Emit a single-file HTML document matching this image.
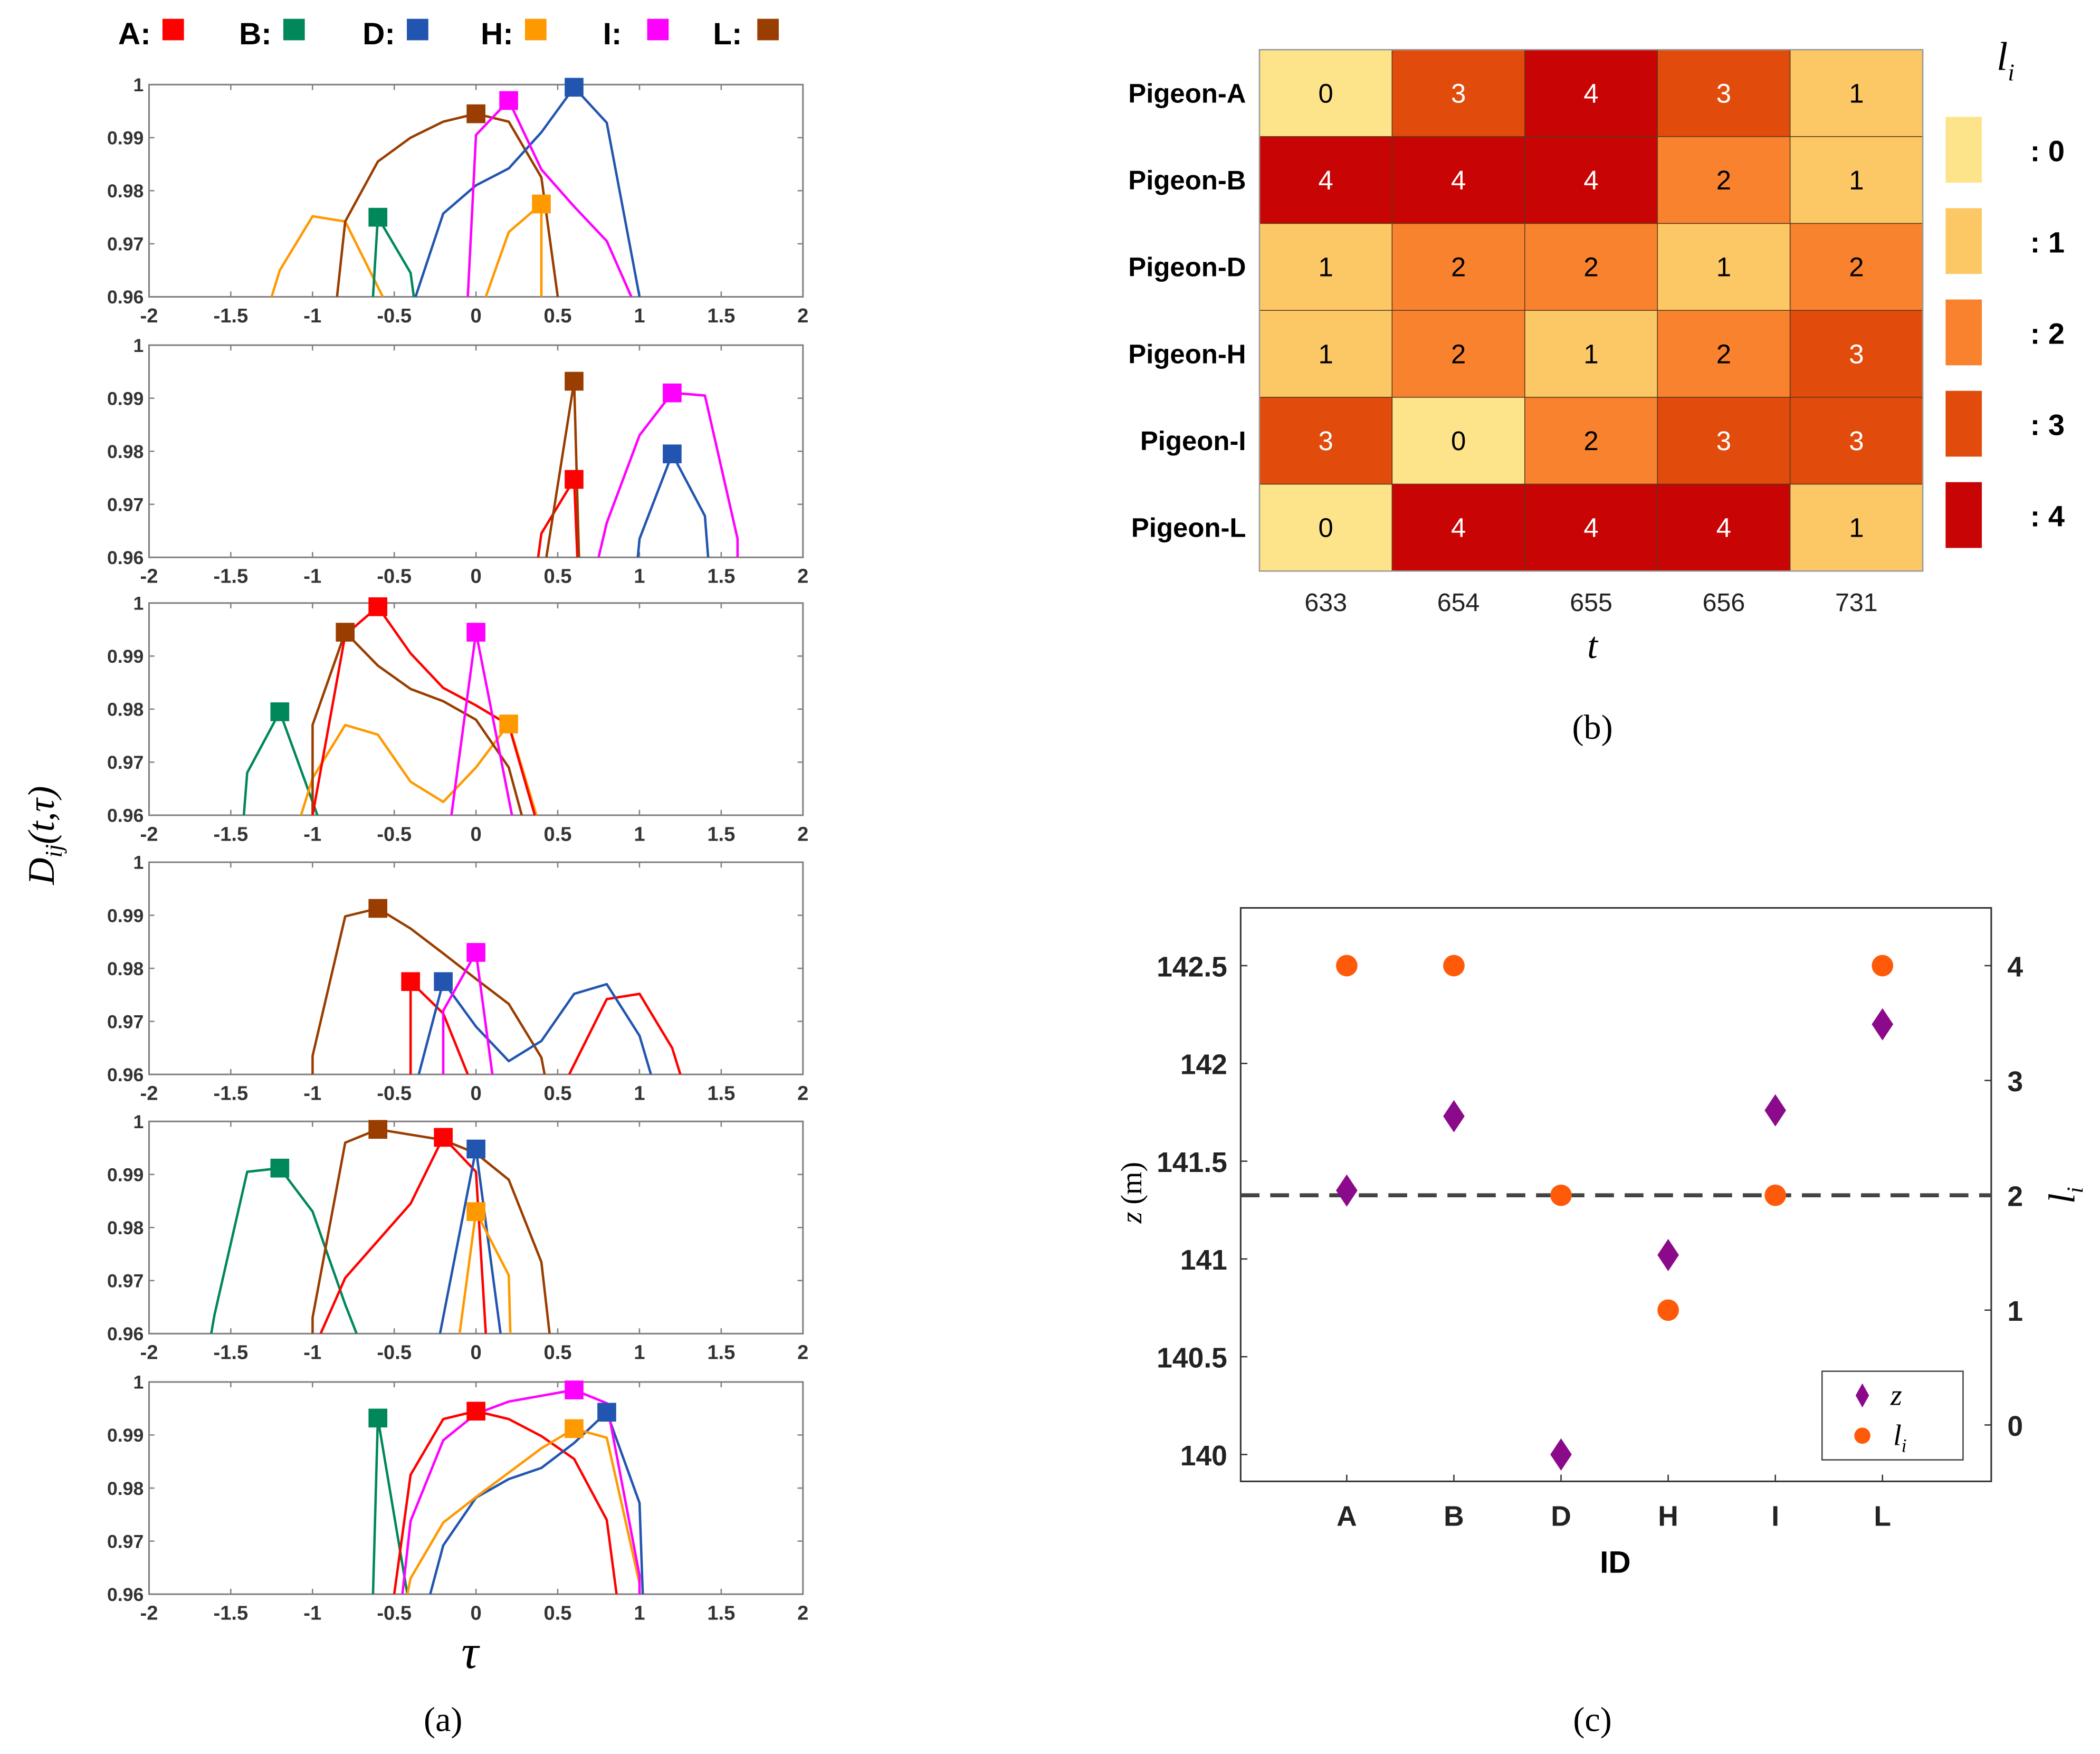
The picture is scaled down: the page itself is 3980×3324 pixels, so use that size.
<!DOCTYPE html>
<html><head><meta charset="utf-8">
<style>
html,body{margin:0;padding:0;background:#fff;}
svg{display:block;}
text{font-family:"Liberation Sans",Arial,sans-serif;}
.serif{font-family:"Liberation Serif","Times New Roman",serif;}
</style></head>
<body>
<svg id="fig" xmlns="http://www.w3.org/2000/svg" width="3980" height="3324" viewBox="0 0 1564 1306" preserveAspectRatio="none">
  <rect width="1564" height="1306" fill="#fff"/>
  <g id="panelA"></g>
  <g id="panelB"></g>
  <g id="panelC"></g>
</svg>
<script>
// ---------- Panel (a) data ----------
const seriesNames = ['A','B','D','H','I','L'];
const seriesColors = {A:'#ff0000',B:'#00875a',D:'#2255b0',H:'#ff9900',I:'#ff00ff',L:'#993d00'};
const xTicksA = [-2,-1.5,-1,-0.5,0,0.5,1,1.5,2];
const yTicksA = [0.96,0.97,0.98,0.99,1];
const yTickLabelsA = ['0.96','0.97','0.98','0.99','1'];
const sub1 = {
  H:[[-1.25,.96],[-1.2,.965],[-1,.9752],[-0.8,.9742],[-0.57,.96],null,[0.06,.96],[0.2,.9722],[0.4,.9775],[0.4,.96]],
  L:[[-0.85,.96],[-0.8,.9742],[-0.6,.9855],[-0.4,.99],[-0.2,.993],[0,.9945],[0.2,.993],[0.4,.9825],[0.5,.96]],
  B:[[-0.63,.96],[-0.6,.975],[-0.4,.9645],[-0.38,.96]],
  D:[[-0.37,.96],[-0.2,.9757],[0,.981],[0.2,.9842],[0.4,.991],[0.6,.9995],[0.8,.9928],[1.0,.96]],
  I:[[-0.05,.96],[0,.9905],[0.2,.997],[0.4,.984],[0.6,.977],[0.8,.9705],[0.95,.96]]
};
const sub2 = {
  A:[[0.38,.96],[0.4,.9645],[0.6,.9747],[0.62,.96]],
  L:[[0.43,.96],[0.6,.9932],[0.63,.96]],
  D:[[0.99,.96],[1.0,.9635],[1.2,.9795],[1.4,.9678],[1.42,.96]],
  I:[[0.75,.96],[0.8,.9665],[1.0,.983],[1.2,.991],[1.4,.9905],[1.6,.9635],[1.6,.96]]
};
const sub3 = {
  B:[[-1.42,.96],[-1.4,.968],[-1.2,.9795],[-0.97,.96]],
  H:[[-1.07,.96],[-1,.967],[-0.8,.977],[-0.6,.9752],[-0.4,.9663],[-0.2,.9625],[0,.969],[0.2,.9772],[0.37,.96]],
  L:[[-1,.96],[-1,.977],[-0.8,.9945],[-0.6,.9882],[-0.4,.9838],[-0.2,.9815],[0,.978],[0.2,.969],[0.28,.96]],
  A:[[-1,.96],[-0.8,.994],[-0.6,.9993],[-0.4,.9905],[-0.2,.984],[0,.9807],[0.2,.977],[0.36,.96]],
  I:[[-0.15,.96],[0,.9945],[0.22,.96]]
};
const sub4 = {
  L:[[-1,.96],[-1,.9635],[-0.8,.9898],[-0.6,.9913],[-0.4,.9875],[-0.2,.9828],[0,.978],[0.2,.9733],[0.4,.9632],[0.42,.96]],
  A:[[-0.4,.96],[-0.4,.9775],[-0.2,.9715],[-0.05,.96],null,[0.57,.96],[0.8,.9742],[1.0,.9752],[1.2,.965],[1.25,.96]],
  D:[[-0.35,.96],[-0.2,.9775],[0,.969],[0.2,.9625],[0.4,.9663],[0.6,.9752],[0.8,.977],[1.0,.9673],[1.07,.96]],
  I:[[-0.2,.96],[-0.2,.972],[0,.983],[0.1,.96]]
};
const sub5 = {
  B:[[-1.62,.96],[-1.6,.9635],[-1.4,.9905],[-1.2,.9912],[-1,.983],[-0.8,.9655],[-0.73,.96]],
  L:[[-1,.96],[-1,.963],[-0.8,.996],[-0.6,.9985],[-0.2,.9965],[0,.994],[0.2,.989],[0.4,.9735],[0.45,.96]],
  A:[[-0.95,.96],[-0.8,.9705],[-0.4,.9845],[-0.2,.997],[0,.9905],[0.06,.96]],
  D:[[-0.22,.96],[0,.9948],[0.15,.96]],
  H:[[-0.1,.96],[0,.983],[0.2,.971],[0.21,.96]]
};
const sub6 = {
  B:[[-0.63,.96],[-0.6,.9932],[-0.42,.96]],
  A:[[-0.5,.96],[-0.4,.9825],[-0.2,.993],[0,.9945],[0.2,.993],[0.4,.9898],[0.6,.9855],[0.8,.974],[0.86,.96]],
  D:[[-0.28,.96],[-0.2,.9692],[0,.9782],[0.2,.9817],[0.4,.9838],[0.6,.9885],[0.8,.9943],[1.0,.9772],[1.02,.96]],
  H:[[-0.42,.96],[-0.4,.963],[-0.2,.9735],[0,.9783],[0.4,.9875],[0.6,.9912],[0.8,.9895],[1.0,.962],[1.0,.96]],
  I:[[-0.45,.96],[-0.4,.9738],[-0.2,.989],[0,.994],[0.2,.9963],[0.6,.9985],[0.8,.996],[1.0,.9635],[1.0,.96]]
};
const subplots = [sub1,sub2,sub3,sub4,sub5,sub6];

// ---------- Panel (b) data ----------
const heatRows = ['Pigeon-A','Pigeon-B','Pigeon-D','Pigeon-H','Pigeon-I','Pigeon-L'];
const heatCols = ['633','654','655','656','731'];
const heatValues = [
  [0,3,4,3,1],
  [4,4,4,2,1],
  [1,2,2,1,2],
  [1,2,1,2,3],
  [3,0,2,3,3],
  [0,4,4,4,1]
];
const heatLevels = [0,1,2,3,4];

// ---------- Panel (c) data ----------
const idCats = ['A','B','D','H','I','L'];
const zValues = [141.35,141.73,140.0,141.02,141.76,142.2];
const lValues = [4,4,2,1,2,4];
const zTicks = [140,140.5,141,141.5,142,142.5];
const lTicks = [0,1,2,3,4];
const lThreshold = 2;

const NS='http://www.w3.org/2000/svg';
function mk(tag, attrs, parent, txt){
  const e=document.createElementNS(NS,tag);
  for(const k in attrs) e.setAttribute(k,attrs[k]);
  if(txt!==undefined) e.textContent=txt;
  parent.appendChild(e); return e;
}

// ===== Panel A =====
const A = document.getElementById('panelA');
const ax0=111, ax1=598;
const tops=[63,257,449,642,835,1029], plotH=158;
const xA = v => ax0 + (v+2)/4*(ax1-ax0);
seriesNames.forEach((s,i)=>{
  const lx=[88,178,270,358,449,531][i];
  const t=mk('text',{x:lx,y:33,'font-size':23,'font-weight':'bold',fill:'#000'},A,s+':');
  
  
  const r=mk('rect',{x:lx+33,y:14,width:16,height:16,fill:seriesColors[s]},A);
  
  
});
subplots.forEach((sp,si)=>{
  const top=tops[si], bot=top+plotH;
  const yA = v => bot - (v-0.96)/0.04*plotH;
  const g=mk('g',{},A);
  
  
  const clipId='clip'+si;
  const cp=mk('clipPath',{id:clipId},g);
  mk('rect',{x:ax0,y:top-10,width:ax1-ax0,height:plotH+10},cp);
  mk('rect',{x:ax0,y:top,width:ax1-ax0,height:plotH,fill:'none',stroke:'#808080','stroke-width':1.2},g);
  xTicksA.forEach(v=>{
    const x=xA(v);
    mk('line',{x1:x,x2:x,y1:bot,y2:bot-4,stroke:'#808080'},g);
    mk('line',{x1:x,x2:x,y1:top,y2:top+4,stroke:'#808080'},g);
    const t=mk('text',{x:x,y:bot+19,'font-size':15,'font-weight':'bold','text-anchor':'middle',fill:'#333'},g,String(v));
    
    
  });
  yTicksA.forEach((v,i)=>{
    const y=yA(v);
    mk('line',{x1:ax0,x2:ax0+4,y1:y,y2:y,stroke:'#808080'},g);
    mk('line',{x1:ax1,x2:ax1-4,y1:y,y2:y,stroke:'#808080'},g);
    const t=mk('text',{x:ax0-4,y:y+5,'font-size':14,'font-weight':'bold','text-anchor':'end',fill:'#333'},g,yTickLabelsA[i]);
    
    
  });
  const lg=mk('g',{'clip-path':'url(#'+clipId+')'},g);
  Object.keys(sp).forEach(s=>{
    const pts=sp[s];
    let d='', pen=false, best=null;
    pts.forEach(p=>{
      if(!p){pen=false;return;}
      d+=(pen?'L':'M')+xA(p[0]).toFixed(1)+','+yA(p[1]).toFixed(1)+' ';
      pen=true;
      if(!best||p[1]>best[1]) best=p;
    });
    const path=mk('path',{d:d,fill:'none',stroke:seriesColors[s],'stroke-width':1.8,'stroke-linejoin':'round'},lg);
    
    
    const m=mk('rect',{x:xA(best[0])-7,y:yA(best[1])-7,width:14,height:14,fill:seriesColors[s]},g);
    
    
  });
});
let t;
t=mk('text',{x:0,y:0,'font-size':28,'font-style':'italic',class:'serif',transform:'translate(40,622) rotate(-90)','text-anchor':'middle'},A,'D');


mk('tspan',{'font-size':18,dy:6},t,'ij'); mk('tspan',{'font-size':28,dy:-6},t,'(t,τ)');
t=mk('text',{x:350,y:1242,'font-size':36,'font-style':'italic',class:'serif','text-anchor':'middle'},A,'τ');


t=mk('text',{x:330,y:1289,'font-size':26,class:'serif','text-anchor':'middle'},A,'(a)');



// ===== Panel B =====
const B=document.getElementById('panelB');
const hx0=938, hy0=37, cw=98.8, rh=64.7;
const levelColors=['#fde48a','#fcc865','#f9822e','#e14b0c','#c80404'];
heatRows.forEach((r,i)=>{
  const tt=mk('text',{x:928,y:hy0+rh*i+rh/2+7,'font-size':20,'font-weight':'bold','text-anchor':'end'},B,r);
  
  
  heatCols.forEach((c,j)=>{
    const v=heatValues[i][j];
    const rc=mk('rect',{x:hx0+cw*j,y:hy0+rh*i,width:cw,height:rh,fill:levelColors[v],stroke:'#5a3a20','stroke-width':0.6},B);
    
    
    const vt=mk('text',{x:hx0+cw*j+cw/2,y:hy0+rh*i+rh/2+7,'font-size':20,'text-anchor':'middle',fill:v>=3?'#fff':'#000'},B,String(v));
    
    
  });
});
mk('rect',{x:hx0,y:hy0,width:cw*5,height:rh*6,fill:'none',stroke:'#999','stroke-width':1},B);
heatCols.forEach((c,j)=>{
  const tt=mk('text',{x:hx0+cw*j+cw/2,y:455,'font-size':19,'text-anchor':'middle',fill:'#222'},B,c);
  
  
});
t=mk('text',{x:1186,y:490,'font-size':28,'font-style':'italic',class:'serif','text-anchor':'middle'},B,'t');


t=mk('text',{x:1487,y:52,'font-size':30,'font-style':'italic',class:'serif'},B,'l');


mk('tspan',{'font-size':18,dy:8},t,'i');
heatLevels.forEach((lv,k)=>{
  const yy=87+k*68;
  const r=mk('rect',{x:1449,y:yy,width:27,height:49,fill:levelColors[lv]},B);
  
  
  const tt=mk('text',{x:1512,y:yy+33,'font-size':22,'font-weight':'bold'},B,':  '+lv);
  
  
});
t=mk('text',{x:1186,y:550,'font-size':26,class:'serif','text-anchor':'middle'},B,'(b)');



// ===== Panel C =====
const C=document.getElementById('panelC');
const cx0=924, cx1=1483, cy0=676, cy1=1103;
const catX = i => 1003 + i*79.8;
const zY = v => 1083 - (v-140)/0.5*72.8;
const lY = v => 1061 - v*85.5;
mk('rect',{x:cx0,y:cy0,width:cx1-cx0,height:cy1-cy0,fill:'none',stroke:'#333','stroke-width':1.2},C);
zTicks.forEach(v=>{
  const y=zY(v);
  mk('line',{x1:cx0,x2:cx0+5,y1:y,y2:y,stroke:'#333'},C);
  const tt=mk('text',{x:cx0-10,y:y+8,'font-size':21,'font-weight':'bold','text-anchor':'end',fill:'#222'},C,String(v));
  
  
});
lTicks.forEach(v=>{
  const y=lY(v);
  mk('line',{x1:cx1,x2:cx1-5,y1:y,y2:y,stroke:'#333'},C);
  const tt=mk('text',{x:cx1+12,y:y+8,'font-size':21,'font-weight':'bold',fill:'#222'},C,String(v));
  
  
});
idCats.forEach((c,i)=>{
  const x=catX(i);
  mk('line',{x1:x,x2:x,y1:cy1,y2:cy1-5,stroke:'#333'},C);
  const tt=mk('text',{x:x,y:1136,'font-size':21,'font-weight':'bold','text-anchor':'middle',fill:'#222'},C,c);
  
  
});
const dl=mk('line',{x1:cx0,x2:cx1,y1:lY(lThreshold),y2:lY(lThreshold),stroke:'#444','stroke-width':3,'stroke-dasharray':'14,8'},C);


lValues.forEach((v,i)=>{
  const c=mk('circle',{cx:catX(i),cy:lY(v),r:8,fill:'#ff5a0a'},C);
  
  
});
zValues.forEach((v,i)=>{
  const x=catX(i), y=zY(v);
  const p=mk('polygon',{points:`${x},${y-12} ${x+8},${y} ${x},${y+12} ${x-8},${y}`,fill:'#8b0a8b'},C);
  
  
});
t=mk('text',{x:1203,y:1171,'font-size':23,'font-weight':'bold','text-anchor':'middle'},C,'ID');


t=mk('text',{x:0,y:0,'font-size':22,class:'serif',transform:'translate(850,888) rotate(-90)','text-anchor':'middle'},C,'');


mk('tspan',{'font-style':'italic'},t,'z');
mk('tspan',{},t,' (m)');
t=mk('text',{x:0,y:0,'font-size':28,'font-style':'italic',class:'serif',transform:'translate(1545,890) rotate(-90)','text-anchor':'middle'},C,'l');


mk('tspan',{'font-size':17,dy:6},t,'i');
const lgC=mk('g',{},C);


mk('rect',{x:1357,y:1021,width:105,height:66,fill:'#fff',stroke:'#444','stroke-width':1},lgC);
mk('polygon',{points:'1387,1030 1392,1039 1387,1048 1382,1039',fill:'#8b0a8b'},lgC);
mk('text',{x:1408,y:1046,'font-size':22,'font-style':'italic',class:'serif'},lgC,'z');
mk('circle',{cx:1387,cy:1069,r:6,fill:'#ff5a0a'},lgC);
const lt=mk('text',{x:1410,y:1076,'font-size':22,'font-style':'italic',class:'serif'},lgC,'l');
mk('tspan',{'font-size':14,dy:5},lt,'i');
t=mk('text',{x:1186,y:1289,'font-size':26,class:'serif','text-anchor':'middle'},C,'(c)');


</script>
</body></html>
